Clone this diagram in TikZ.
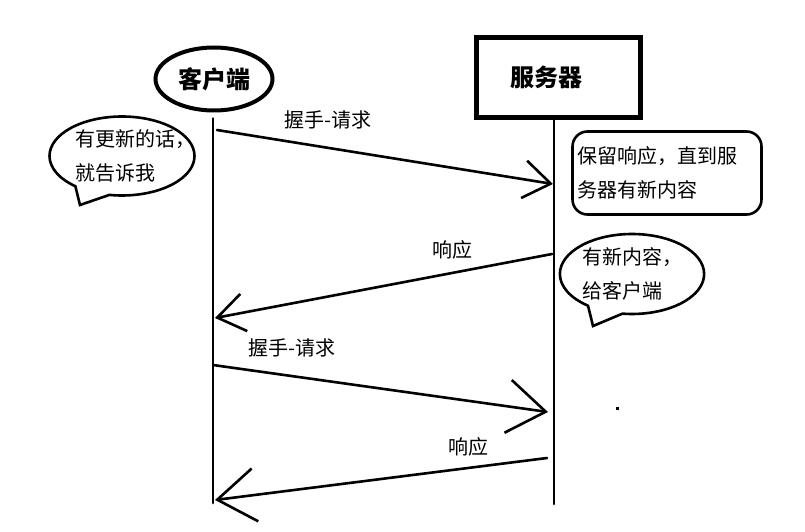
\documentclass[tikz,border=0pt]{standalone}
\usepackage{fontspec}
\newfontfamily\cjk{Noto Sans CJK SC}
\usetikzlibrary{arrows.meta,shapes.geometric,shapes.callouts}

\begin{document}
\begin{tikzpicture}[x=1pt,y=-1pt,line cap=round,
        life/.style={line width=2.8pt},
        msg/.style={line width=2.6pt,-{Straight Barb[length=#1,width'=0pt 1.4]}},
        lbl/.style={font=\cjk\fontsize{20}{24}\selectfont,inner sep=0pt},
        note/.style={font=\cjk\fontsize{20}{34}\selectfont,align=left,inner sep=1pt},
        bubble/.style={note,draw,ellipse callout,line width=2.6pt,callout pointer arc=30},
        actor/.style={draw,font=\cjk\bfseries\fontsize{24}{28}\selectfont}]
        \useasboundingbox (0,0) rectangle (805,532);

        % draw the two parties
        \node[actor,ellipse,line width=4pt,minimum width=117pt,minimum height=63pt] (client) at (214,79) {客户端};
        \node[actor,line width=5pt,minimum width=164pt,minimum height=80pt,text width=96pt,align=left] (server) at (558.5,77.5) {服务器};

        % draw the lifelines
        \coordinate (cend) at (213,503);
        \coordinate (send) at (554,504);
        \draw[life] ([yshift=-6pt]client.south -| cend) -- (cend);
        \draw[life] (server.south -| send) -- (send);

        % ends of the messages
        \coordinate (req1) at (217,130);
        \coordinate (hold1) at (553,184);
        \coordinate (resp1) at (552,254);
        \coordinate (back1) at (215,318);
        \coordinate (req2) at (213,365);
        \coordinate (hold2) at (548,412);
        \coordinate (resp2) at (547,458);
        \coordinate (back2) at (215,500);

        % draw the messages
        \foreach \from/\to/\tip in {req1/hold1/27pt, resp1/back1/27pt, req2/hold2/38pt, resp2/back2/38pt}
                \draw[msg=\tip] (\from) -- (\to);

        % label the messages
        \node[lbl] (hs1) at (328,120) {握手-请求};
        \node[lbl] (ack1) at (452,250) {响应};
        \node[lbl] (hs2) at (292,348) {握手-请求};
        \node[lbl] (ack2) at (468,447) {响应};

        % the notes beside the lifelines
        \node[bubble,minimum width=145pt,minimum height=79pt,text width=94pt,
              callout absolute pointer={(80,205)}] (upd) at (122,156) {有更新的话，\\就告诉我};
        \node[note,draw,line width=2.6pt,rounded corners=15pt,minimum width=189pt,
              minimum height=83pt,text width=180pt] (hold) at (667,173) {保留响应，直到服\\务器有新内容};
        \node[bubble,minimum width=130pt,minimum height=80pt,text width=100pt,
              callout absolute pointer={(593,326)}] (news) at (632,274) {有新内容，\\给客户端};

        % the stray dot
        \fill (616,407) rectangle ++(3,3);
\end{tikzpicture}
\end{document}
